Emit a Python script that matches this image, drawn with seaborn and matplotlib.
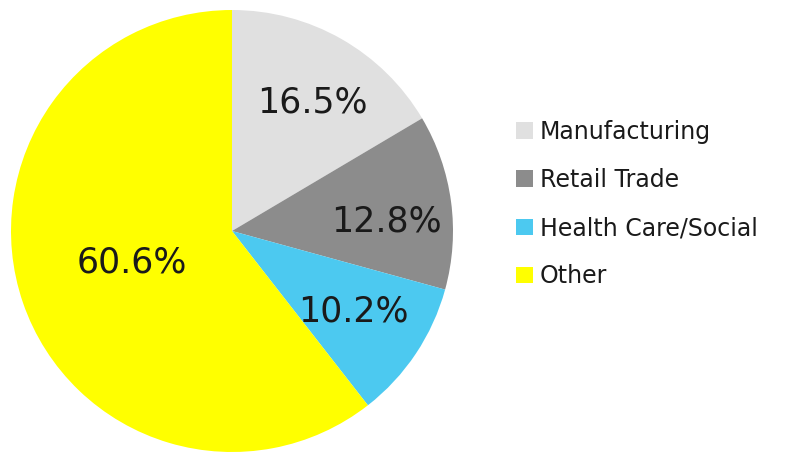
import numpy as np
import matplotlib
matplotlib.use("Agg")
import matplotlib.pyplot as plt
import seaborn as sns

# slice data (clockwise from 12 o'clock)
categories = ["Manufacturing", "Retail Trade", "Health Care/Social", "Other"]
shares = [16.5, 12.8, 10.2, 60.6]
colors = ["#E0E0E0", "#8C8C8C", "#4CC9F0", "#FFFF00"]
# label placement tweaks (radius fraction, angle shift in degrees)
label_dist = [0.685, 0.70, 0.66, 0.475]
label_shift = [-2.6, -4.3, 0.0, -1.7]

sns.set_theme(style="white")
plt.rcParams['font.family'] = ['DejaVu Sans']

fig = plt.figure(figsize=(7.88, 4.55), dpi=100)
W, H = 788, 455
cx, cy, r = 232, 231, 221
ax = fig.add_axes([(cx - r) / W, (H - cy - r) / H, 2 * r / W, 2 * r / H])

wedges, _ = ax.pie(shares, colors=colors, startangle=90, counterclock=False,
                   radius=1.0, wedgeprops=dict(linewidth=0))
ax.set_xlim(-1, 1)
ax.set_ylim(-1, 1)
ax.set_aspect("equal")
ax.axis("off")

# percentage labels
for w, val, d, s in zip(wedges, shares, label_dist, label_shift):
    ang = np.deg2rad((w.theta1 + w.theta2) / 2 + s)
    ax.text(d * np.cos(ang), d * np.sin(ang), f"{val:.1f}%",
            ha="center", va="center", fontsize=25, color="#1a1a1a")

leg = fig.legend(wedges, categories, loc="center left",
                 bbox_to_anchor=(495 / W, 1 - 204 / H), frameon=False,
                 fontsize=17, handlelength=0.7, handleheight=0.7,
                 handletextpad=0.3, labelspacing=1.03)
for t in leg.get_texts():
    t.set_color("#1a1a1a")

fig.savefig("out.png", dpi=100)
